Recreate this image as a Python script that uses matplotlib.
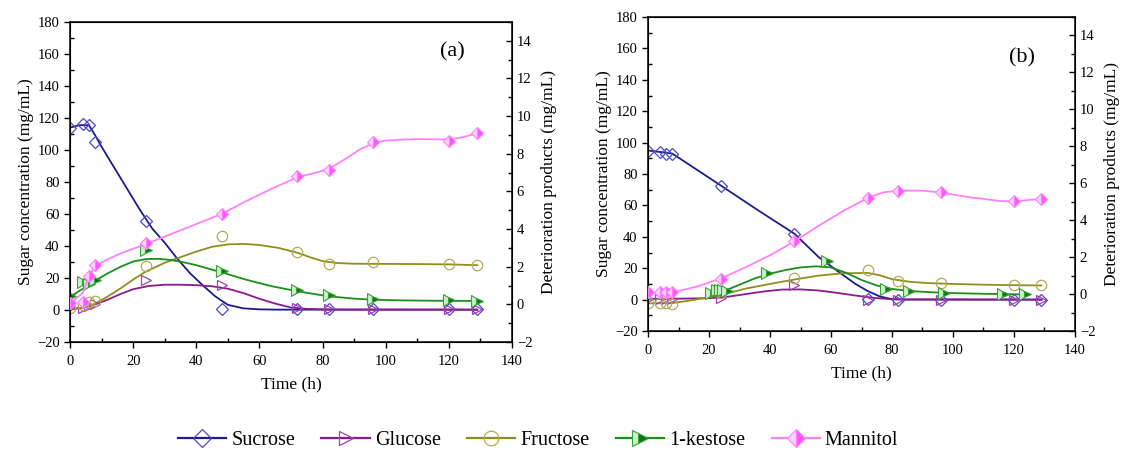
import numpy as np
import matplotlib
matplotlib.use("Agg")
import matplotlib.pyplot as plt
from matplotlib.lines import Line2D
from matplotlib.ticker import MultipleLocator

plt.rcParams['font.family'] = ['Liberation Serif', 'DejaVu Serif']

# ---------------- panel (a) : measured points ----------------
t_a = [0, 4, 6, 8, 24, 48, 72, 82, 96, 120, 129]
sucrose_a = [114, 116, 115.5, 105, 55.5, 0.8, 0.5, 0.3, 0.3, 0.3, 0.3]
glucose_a = [2, 1.5, 2.5, 3.5, 19, 15.5, 1.5, 0.3, 0.3, 0.3, 0.3]
fructose_a = [1.5, 3, 5, 5.5, 27.5, 46, 36, 29, 30, 29, 28]
kestose_a = [8.5, 17.5, 16, 19, 37.5, 24.5, 12.5, 9.5, 7, 6, 5.8]
mannitol_a = [0.05, 0.15, 1.5, 2.1, 3.25, 4.8, 6.8, 7.15, 8.6, 8.7, 9.1]

# panel (a) : fitted curves
ct_suc_a = [0, 3, 6, 8, 10, 14, 18, 22, 26, 30, 34, 38, 42, 46, 50, 55, 60, 66, 75, 129]
cv_suc_a = [114, 115.5, 115.5, 109, 102, 89, 76, 63, 51, 42, 32, 23, 15.5, 8.5, 3.2, 1, 0.4, 0.2, 0.2, 0.2]
ct_glu_a = [0, 4, 8, 12, 16, 20, 25, 30, 35, 40, 45, 50, 55, 60, 65, 70, 75, 80, 85, 129]
cv_glu_a = [0.5, 1.5, 3.5, 6.5, 10, 13, 15, 15.8, 15.8, 15.5, 14.8, 13.3, 10.5, 7, 4, 1.5, 0.7, 0.4, 0.3, 0.2]
ct_fru_a = [0, 4, 8, 12, 16, 20, 24, 30, 35, 40, 45, 50, 55, 60, 66, 72, 76, 80, 85, 90, 100, 110, 120, 129]
cv_fru_a = [0, 1.5, 4, 8.5, 13.5, 19, 24, 29.5, 33, 36.5, 39.5, 41, 41.3, 40.6, 38.8, 35.8, 33, 30.5, 29.3, 28.9, 28.8, 28.7, 28.5, 28]
ct_kes_a = [0, 3, 6, 9, 12, 16, 20, 24, 28, 32, 36, 40, 48, 56, 64, 72, 82, 90, 96, 105, 115, 129]
cv_kes_a = [8, 12, 15.5, 19.5, 23, 27, 30.3, 31.8, 32, 31.2, 29.8, 28, 23.5, 18.8, 14.8, 11.7, 8.5, 7.1, 6.4, 6, 5.8, 5.6]
ct_man_a = [0, 4, 6, 8, 12, 16, 20, 24, 30, 36, 42, 48, 56, 64, 72, 78, 82, 88, 92, 96, 100, 105, 110, 120, 125, 129]
cv_man_a = [0.05, 0.6, 1.45, 2.05, 2.4, 2.7, 2.95, 3.2, 3.6, 4.0, 4.4, 4.8, 5.5, 6.15, 6.75, 7.0, 7.2, 7.8, 8.25, 8.55, 8.7, 8.75, 8.78, 8.75, 8.9, 9.1]

# ---------------- panel (b) : measured points ----------------
t_b = [0, 4, 6, 8, 24, 48, 72, 82, 96, 120, 129]
sucrose_b = [94.5, 94, 93, 92.5, 72.5, 41.5, 0.3, 0, 0, 0, 0]
glucose_b = [0.5, 0.5, 0.5, 0.5, 0.8, 9.5, 0, 0, 0, 0, 0]
fructose_b = [-2, -2.3, -2.3, -2.5, 4.5, 14, 19, 11.8, 10.8, 9, 9]
mannitol_b = [0.1, 0.1, 0.1, 0.1, 0.8, 2.85, 5.2, 5.6, 5.5, 5.05, 5.15]
t_kes_b = [20.5, 22.5, 23.6, 24.7, 25.8, 39, 58.6, 78, 85.5, 97, 116.5, 123.5]
kestose_b = [4, 6, 6, 6, 5.8, 17, 24.8, 7, 5.3, 4.3, 3.4, 3.3]

# panel (b) : fitted curves
ct_suc_b = [0, 8, 24, 36, 48, 56, 63, 68, 72, 76, 80, 84, 129]
cv_suc_b = [95, 93, 72.5, 57, 42, 27, 17, 10, 5.5, 2, 0.3, 0, 0]
ct_glu_b = [0, 10, 20, 26, 32, 38, 44, 50, 56, 62, 68, 74, 80, 129]
cv_glu_b = [0.5, 0.6, 0.9, 1.8, 3.5, 5.2, 6.4, 6.5, 5.8, 4.3, 2.6, 1.1, 0.2, 0]
ct_fru_b = [0, 8, 14, 20, 26, 32, 40, 48, 56, 64, 72, 76, 80, 86, 92, 100, 110, 120, 129]
cv_fru_b = [-2.4, -2.2, -0.5, 1.5, 4, 7, 10, 12.8, 15.3, 16.8, 17, 15.5, 13, 11.3, 10.5, 10, 9.5, 9.2, 9]
ct_kes_b = [20.5, 25, 30, 35, 40, 45, 50, 55, 60, 65, 70, 75, 80, 86, 97, 110, 123.5]
cv_kes_b = [3.5, 5.5, 9.5, 13.5, 16.5, 18.8, 20.5, 21.2, 20.5, 17, 12.5, 9, 6.8, 5.4, 4.3, 3.7, 3.3]
ct_man_b = [0, 8, 16, 24, 32, 40, 48, 56, 64, 72, 77, 82, 90, 96, 105, 115, 120, 125, 129]
cv_man_b = [0.05, 0.1, 0.4, 0.85, 1.45, 2.1, 2.85, 3.7, 4.5, 5.2, 5.5, 5.6, 5.6, 5.5, 5.25, 5.05, 5.0, 5.1, 5.15]

names = ['Sucrose', 'Glucose', 'Fructose', '1-kestose', 'Mannitol']

# style per series: line colour, marker, marker kwargs
sty = {
    'Sucrose': dict(color='#1c1c8c', marker='D',
                    mk=dict(mfc='none', mec='#4b4bc4', ms=6.5, mew=0.9)),
    'Glucose': dict(color='#8b1a8b', marker='>',
                    mk=dict(mfc='none', mec='#a040b4', ms=7.5, mew=0.9)),
    'Fructose': dict(color='#8f8f1f', marker='o',
                     mk=dict(mfc='none', mec='#b3aa55', ms=7.5, mew=0.9)),
    '1-kestose': dict(color='#1a8f1a', marker='>',
                      mk=dict(mfc='#0d7a0d', mfcalt='#c8f2c8', fillstyle='right',
                              mec='#3aa03a', ms=8, mew=0.8)),
    'Mannitol': dict(color='#ff80ff', marker='D',
                     mk=dict(mfc='#ff55ff', mfcalt='#ffd2ff', fillstyle='right',
                             mec='#ff80ff', ms=6.5, mew=0.8)),
}


def draw(ax, ax2, series, letter):
    for name, tt, vv, ct, cv in series:
        s = sty[name]
        target = ax2 if name == 'Mannitol' else ax
        target.plot(ct, cv, '-', color=s['color'], lw=1.3, zorder=2)
        target.plot(tt, vv, linestyle='none', marker=s['marker'], zorder=3, **s['mk'])
    ax.set_xlim(0, 140)
    ax.set_ylim(-20, 180)
    ax2.set_ylim(-2, 15)
    ax.xaxis.set_major_locator(MultipleLocator(20))
    ax.xaxis.set_minor_locator(MultipleLocator(10))
    ax.yaxis.set_major_locator(MultipleLocator(20))
    ax.yaxis.set_minor_locator(MultipleLocator(10))
    ax2.yaxis.set_major_locator(MultipleLocator(2))
    ax2.yaxis.set_minor_locator(MultipleLocator(1))
    ax.tick_params(which='major', direction='out', length=4, width=1, labelsize=10.5)
    ax.tick_params(axis='x', which='major', pad=5.5)
    ax.tick_params(which='minor', direction='in', length=3, width=1)
    ax2.tick_params(which='both', direction='in', width=1, labelsize=10.5)
    ax2.tick_params(which='major', length=4)
    ax2.tick_params(which='minor', length=3)
    for sp in ax.spines.values():
        sp.set_linewidth(1.1)
    ax.set_xlabel('Time (h)', fontsize=12.5, labelpad=6)
    ax.set_ylabel('Sugar concentration (mg/mL)', fontsize=12.5, labelpad=2)
    ax2.set_ylabel('Deterioration products (mg/mL)', fontsize=12.5, labelpad=6)
    ax.text(letter[0], letter[1], letter[2], transform=ax.transAxes,
            ha='center', va='center', fontsize=16)


fig = plt.figure(figsize=(11.26, 4.55), dpi=100)
axa = fig.add_axes([0.0622, 0.2484, 0.3925, 0.7033])
axa2 = axa.twinx()
axb = fig.add_axes([0.5755, 0.2725, 0.3792, 0.6901])
axb2 = axb.twinx()

series_a = [
    ('Sucrose', t_a, sucrose_a, ct_suc_a, cv_suc_a),
    ('Glucose', t_a, glucose_a, ct_glu_a, cv_glu_a),
    ('Fructose', t_a, fructose_a, ct_fru_a, cv_fru_a),
    ('1-kestose', t_a, kestose_a, ct_kes_a, cv_kes_a),
    ('Mannitol', t_a, mannitol_a, ct_man_a, cv_man_a),
]
series_b = [
    ('Sucrose', t_b, sucrose_b, ct_suc_b, cv_suc_b),
    ('Glucose', t_b, glucose_b, ct_glu_b, cv_glu_b),
    ('Fructose', t_b, fructose_b, ct_fru_b, cv_fru_b),
    ('1-kestose', t_kes_b, kestose_b, ct_kes_b, cv_kes_b),
    ('Mannitol', t_b, mannitol_b, ct_man_b, cv_man_b),
]
draw(axa, axa2, series_a, (0.864, 0.906, '(a)'))
draw(axb, axb2, series_b, (0.876, 0.87, '(b)'))

handles = [Line2D([], [], color=sty[n]['color'], lw=1.6, marker=sty[n]['marker'],
                  **dict(sty[n]['mk'], ms=sty[n]['mk']['ms'] * 1.4)) for n in names]
fig.legend(handles, names, loc='center', bbox_to_anchor=(0.478, 0.031), ncol=5,
           frameon=False, fontsize=14.5, handlelength=2.4, handletextpad=0.25,
           columnspacing=1.3, borderpad=0)

fig.savefig('out.png', dpi=100)
